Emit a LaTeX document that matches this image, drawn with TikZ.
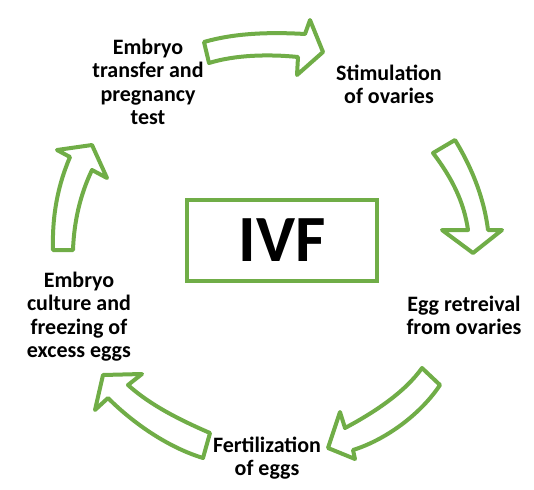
\documentclass[tikz,border=0pt]{standalone}
\usepackage{fontspec}
\setmainfont{Carlito}
\definecolor{ivfgreen}{RGB}{112,173,71}
\tikzset{
    cyclearrow/.style={draw=ivfgreen, line width=4pt, fill=white, line join=round},
    steplabel/.style={font=\bfseries\fontsize{22}{23.5}\selectfont, align=center, inner sep=0pt, anchor=north},
}
\begin{document}
\begin{tikzpicture}[x=1pt, y=-1pt]
    % --- canvas (pixel grid of the reference) ---
    \useasboundingbox (0,0) rectangle (534,489);

    % --- central box ---
    \node[draw=ivfgreen, line width=4pt, minimum width=190pt, minimum height=81pt,
          font=\bfseries\fontsize{66}{66}\selectfont, inner sep=0pt] (ivf) at (282,240.5) {IVF};

    % --- stage labels ---
    \node[steplabel] (transfer) at (148,38.5) {Embryo\\transfer and\\pregnancy\\test};
    \node[steplabel] (stimulation) at (389,64.5) {Stimulation\\of ovaries};
    \node[steplabel] (retrieval) at (464,295.5) {Egg retreival\\from ovaries};
    \node[steplabel] (fertilization) at (267,436.5) {Fertilization\\of eggs};
    \node[steplabel] (culture) at (79,271.5) {Embryo\\culture and\\freezing of\\excess eggs};

    % --- curved block arrows ---
    % transfer -> stimulation
    \draw[cyclearrow] (204,42) .. controls (235,33) and (270,32) .. (305,34)
        -- (310,20) -- (323,52) -- (297,75) -- (298,57)
        .. controls (268,54) and (235,55) .. (209,63) -- cycle;
    % stimulation -> retrieval
    \draw[cyclearrow] (433,153) -- (455,140) .. controls (472,168) and (484,198) .. (488,230)
        -- (502,230) -- (473,253) -- (442,230) -- (468,230)
        .. controls (464,202) and (452,178) .. cycle;
    % retrieval -> fertilization
    \draw[cyclearrow] (422,368) -- (440,385) .. controls (420,415) and (385,440) .. (353,450)
        -- (355,459) -- (328,448) -- (340,412) -- (345,428)
        .. controls (375,412) and (405,392) .. cycle;
    % fertilization -> culture
    \draw[cyclearrow] (210,433) .. controls (180,420) and (150,405) .. (128,385)
        -- (142,374) -- (103,375) -- (95,410) -- (108,398)
        .. controls (135,425) and (170,448) .. (203,458) -- cycle;
    % culture -> transfer
    \draw[cyclearrow] (53,250) .. controls (52,215) and (58,185) .. (70,157)
        -- (57,150) -- (92,145) -- (107,178) -- (92,170)
        .. controls (80,195) and (74,222) .. (73,250) -- cycle;
\end{tikzpicture}
\end{document}
